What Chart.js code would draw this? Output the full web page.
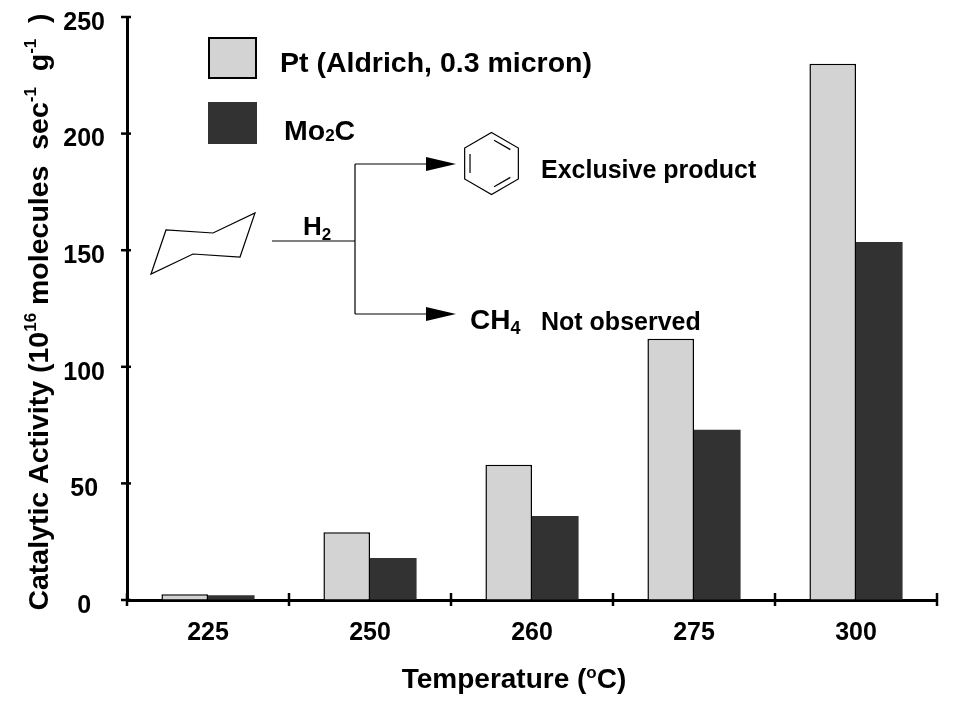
<!DOCTYPE html>
<html>
<head>
<meta charset="utf-8">
<script src="https://cdn.jsdelivr.net/npm/chart.js@4.4.0/dist/chart.umd.min.js"></script>
<style>
  html, body { margin: 0; padding: 0; background: #fff; }
  #wrap { width: 956px; height: 727px; }
</style>
</head>
<body>
<div id="wrap"><canvas id="chart"></canvas></div>
<script>
// values
var temperatures = ['225', '250', '260', '275', '300'];
var ptActivity = [2.5, 29, 58, 112, 230];
var mo2cActivity = [2, 18, 36, 73, 153.5];
var yTicks = [0, 50, 100, 150, 200, 250];

var FAMILY = "'Liberation Sans', Arial, sans-serif";

function font(size) {
    return 'bold ' + size + 'px ' + FAMILY;
}

// draws text made of pieces, some raised (sup) or lowered (sub)
function drawRich(ctx, parts, x, y, align) {
    var total = 0;
    parts.forEach(function(p) {
        ctx.font = font(p.size);
        p.w = ctx.measureText(p.t).width;
        total += p.w;
    });
    var cx = align === 'center' ? x - total / 2 : x;
    ctx.textAlign = 'left';
    ctx.textBaseline = 'alphabetic';
    parts.forEach(function(p) {
        ctx.font = font(p.size);
        ctx.fillText(p.t, cx, y + (p.dy || 0));
        cx += p.w;
    });
}

function arrow(ctx, x1, x2, y) {
    ctx.beginPath();
    ctx.moveTo(x1, y);
    ctx.lineTo(x2 - 28, y);
    ctx.stroke();
    ctx.beginPath();
    ctx.moveTo(x2, y);
    ctx.lineTo(x2 - 30, y - 7);
    ctx.lineTo(x2 - 30, y + 7);
    ctx.closePath();
    ctx.fill();
}

var extras = {
    id: 'extras',
    afterDraw: function(chart) {
        var ctx = chart.ctx;
        var xs = chart.scales.x, ys = chart.scales.y;
        var area = chart.chartArea;
        ctx.save();
        ctx.strokeStyle = '#000';
        ctx.fillStyle = '#000';

        // tick marks crossing the axes
        ctx.lineWidth = 2.5;
        yTicks.forEach(function(v) {
            var py = ys.getPixelForValue(v);
            ctx.beginPath();
            ctx.moveTo(area.left - 6, py);
            ctx.lineTo(area.left + 4, py);
            ctx.stroke();
        });
        for (var i = 0; i <= temperatures.length; i++) {
            var px = xs.getPixelForValue(i - 0.5);
            ctx.beginPath();
            ctx.moveTo(px, area.bottom - 7);
            ctx.lineTo(px, area.bottom + 6);
            ctx.stroke();
        }

        // legend
        var ds = chart.data.datasets;
        ctx.fillStyle = ds[0].backgroundColor;
        ctx.fillRect(209, 38, 47, 40);
        ctx.lineWidth = 2;
        ctx.strokeRect(209, 38, 47, 40);
        ctx.fillStyle = ds[1].backgroundColor;
        ctx.fillRect(208, 102, 49, 42);
        ctx.fillStyle = '#000';
        drawRich(ctx, [{t: ds[0].label, size: 28.5}], 280, 72, 'left');
        drawRich(ctx, [{t: 'Mo', size: 28.5}, {t: '2', size: 17, dy: 1}, {t: 'C', size: 28.5}], 284, 140, 'left');

        // reaction scheme
        ctx.lineWidth = 1.2;
        ctx.beginPath();
        ctx.moveTo(151, 274); ctx.lineTo(166, 230); ctx.lineTo(213, 233);
        ctx.lineTo(255, 213); ctx.lineTo(240, 257); ctx.lineTo(193, 254);
        ctx.closePath();
        ctx.stroke();

        ctx.beginPath();
        ctx.moveTo(272, 241); ctx.lineTo(355, 241);
        ctx.moveTo(355, 164); ctx.lineTo(355, 314);
        ctx.stroke();
        arrow(ctx, 355, 456, 164);
        arrow(ctx, 355, 456, 314);

        // benzene
        var bx = 491.5, by = 163.5, r = 31;
        var pts = [];
        for (var k = 0; k < 6; k++) {
            var a = -Math.PI / 2 + k * Math.PI / 3;
            pts.push([bx + r * Math.cos(a), by + r * Math.sin(a)]);
        }
        ctx.beginPath();
        ctx.moveTo(pts[0][0], pts[0][1]);
        for (k = 1; k < 6; k++) ctx.lineTo(pts[k][0], pts[k][1]);
        ctx.closePath();
        ctx.stroke();
        [0, 2, 4].forEach(function(e) {
            var p1 = pts[e], p2 = pts[(e + 1) % 6];
            var s = 0.8;
            var q1 = [bx + (p1[0] - bx) * s, by + (p1[1] - by) * s];
            var q2 = [bx + (p2[0] - bx) * s, by + (p2[1] - by) * s];
            var t = 0.12;
            ctx.beginPath();
            ctx.moveTo(q1[0] + (q2[0] - q1[0]) * t, q1[1] + (q2[1] - q1[1]) * t);
            ctx.lineTo(q2[0] - (q2[0] - q1[0]) * t, q2[1] - (q2[1] - q1[1]) * t);
            ctx.stroke();
        });

        drawRich(ctx, [{t: 'H', size: 26}, {t: '2', size: 17, dy: 5}], 303, 235, 'left');
        drawRich(ctx, [{t: 'Exclusive product', size: 25}], 541, 178, 'left');
        drawRich(ctx, [{t: 'CH', size: 28}, {t: '4', size: 18, dy: 5}], 470, 329, 'left');
        drawRich(ctx, [{t: 'Not observed', size: 25}], 541, 330, 'left');

        // axis titles
        drawRich(ctx, [{t: 'Temperature (', size: 28}, {t: 'o', size: 17, dy: -10}, {t: 'C)', size: 28}], 514, 688, 'center');

        ctx.translate(48, 312);
        ctx.rotate(-Math.PI / 2);
        drawRich(ctx, [
            {t: 'Catalytic Activity (10', size: 28.5},
            {t: '16', size: 17, dy: -12},
            {t: ' molecules  sec', size: 28.5},
            {t: '-1', size: 17, dy: -12},
            {t: '  g', size: 28.5},
            {t: '-1', size: 17, dy: -12},
            {t: '  )', size: 28.5}
        ], 0, 0, 'center');
        ctx.restore();
    }
};

var ctx = document.getElementById('chart').getContext('2d');
var myChart = new Chart(ctx, {
    type: 'bar',
    data: {
        labels: temperatures,
        datasets: [{
            label: 'Pt (Aldrich, 0.3 micron)',
            data: ptActivity,
            backgroundColor: '#d3d3d3',
            borderColor: '#000',
            borderWidth: 1.5,
            borderSkipped: 'bottom'
        }, {
            label: 'Mo2C',
            data: mo2cActivity,
            backgroundColor: '#323232',
            borderWidth: 0
        }]
    },
    options: {
        responsive: true,
        maintainAspectRatio: false,
        animation: false,
        devicePixelRatio: 1,
        layout: { padding: { top: 17, right: 19, left: 0, bottom: 0 } },
        plugins: {
            legend: { display: false },
            tooltip: { enabled: false }
        },
        datasets: {
            bar: { categoryPercentage: 0.575, barPercentage: 1 }
        },
        scales: {
            x: {
                grid: { display: true, drawOnChartArea: false, drawTicks: true, tickLength: 18, tickColor: 'rgba(0,0,0,0)' },
                border: { display: true, color: '#000', width: 3 },
                ticks: { color: '#000', font: { family: FAMILY, size: 25, weight: 'bold' }, padding: 0 },
                afterFit: function(scale) { scale.height = 127; }
            },
            y: {
                min: 0,
                max: 250,
                grid: { display: true, drawOnChartArea: false, drawTicks: true, tickLength: 22, tickColor: 'rgba(0,0,0,0)' },
                border: { display: true, color: '#000', width: 3 },
                ticks: {
                    stepSize: 50,
                    color: '#000',
                    crossAlign: 'center',
                    padding: 0,
                    labelOffset: 6,
                    font: { family: FAMILY, size: 25, weight: 'bold' }
                },
                afterFit: function(scale) { scale.width = 127; }
            }
        }
    },
    plugins: [extras]
});
</script>
</body>
</html>
